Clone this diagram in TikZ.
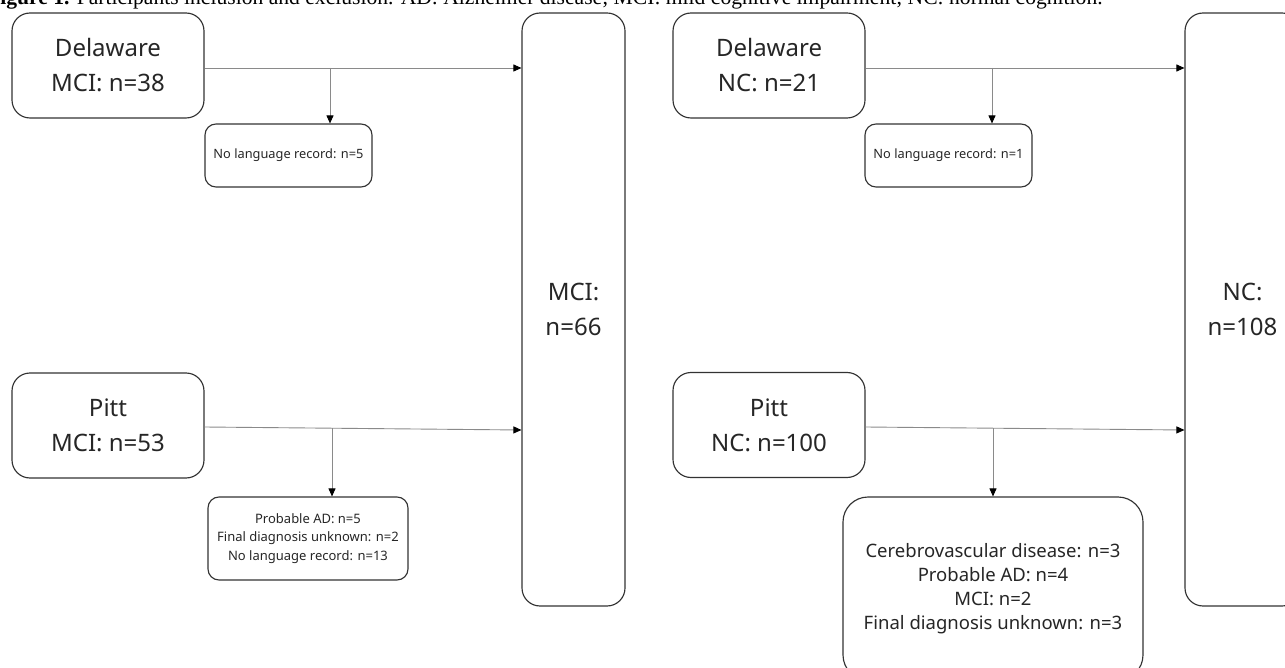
\documentclass[tikz,border=0pt]{standalone}
\usepackage{fontspec}
\setmainfont{Liberation Serif}
\newfontfamily\diagfont{Noto Sans}
\usetikzlibrary{arrows.meta}
\definecolor{boxcol}{HTML}{333333}
\definecolor{linecol}{HTML}{8A8A8A}
\definecolor{txtcol}{HTML}{262626}
\tikzset{
  box/.style={draw=boxcol, line width=1.15pt, rounded corners=18pt, align=center,
    inner sep=0pt, text=txtcol, font=\diagfont\fontsize{24}{35}\selectfont},
  srcbox/.style={box, minimum width=192pt, minimum height=105pt},
  bigbox/.style={box, minimum height=593pt},
  exbox/.style={box, rounded corners=11pt, font=\diagfont\fontsize{12.8}{18.5}\selectfont},
  conn/.style={draw=linecol, line width=0.9pt},
  arr/.style={conn, -{Triangle[length=8pt,width=7pt,color=black]}}
}
\begin{document}
\begin{tikzpicture}[x=1pt,y={(0pt,-1pt)}]
\useasboundingbox (0,0) rectangle (1285,668);
\clip (0,0) rectangle (1285,668);
% caption (partly cut at top)
\node[anchor=base west, inner sep=0pt, font=\fontsize{21.6}{26}\selectfont] (cap) at (-13,5)
  {\textbf{Figure 1.} Participants inclusion and exclusion. AD: Alzheimer disease; MCI: mild cognitive impairment; NC: normal cognition.};
% left half
\node[srcbox] (dmci) at (108,65.5) {Delaware\\MCI: n=38};
\node[exbox, minimum width=167pt, minimum height=63pt] (ex1) at (288.5,155.5) {No language record: n=5};
\node[bigbox, minimum width=103pt] (mci) at (573.5,309.5) {MCI:\\n=66};
\node[srcbox] (pmci) at (108,425.5) {Pitt\\MCI: n=53};
\node[exbox, minimum width=200pt, minimum height=83pt, font=\diagfont\fontsize{13}{18.5}\selectfont] (ex2) at (308,538.5)
  {Probable AD: n=5\\Final diagnosis unknown: n=2\\No language record: n=13};
% right half
\node[srcbox] (dnc) at (769,65.5) {Delaware\\NC: n=21};
\node[exbox, minimum width=167pt, minimum height=63pt] (ex3) at (948.5,155.5) {No language record: n=1};
\node[bigbox, minimum width=115pt] (nc) at (1242.5,309.5) {NC:\\n=108};
\node[srcbox] (pnc) at (769,425) {Pitt\\NC: n=100};
\node[exbox, rounded corners=25pt, minimum width=300pt, minimum height=183pt, font=\diagfont\fontsize{18.5}{24}\selectfont] (ex4) at (993,588.5)
  {Cerebrovascular disease: n=3\\Probable AD: n=4\\MCI: n=2\\Final diagnosis unknown: n=3};
% connector points
\coordinate (a1) at (204,68);  \coordinate (b1) at (522,68);
\coordinate (j1) at (330,68);
\coordinate (a2) at (204,427); \coordinate (b2) at (522,430);
\coordinate (j2) at (332,428);
\coordinate (a3) at (865,68);  \coordinate (b3) at (1185,68);
\coordinate (j3) at (992,68);
\coordinate (a4) at (865,427); \coordinate (b4) at (1185,430);
\coordinate (j4) at (993,428);
% connectors
\draw[arr] (dmci.east |- a1) -- (mci.west |- b1);
\draw[arr] (j1) -- (j1 |- ex1.north);
\draw[arr] (pmci.east |- a2) -- (mci.west |- b2);
\draw[arr] (j2) -- (j2 |- ex2.north);
\draw[arr] (dnc.east |- a3) -- (nc.west |- b3);
\draw[arr] (j3) -- (j3 |- ex3.north);
\draw[arr] (pnc.east |- a4) -- (nc.west |- b4);
\draw[arr] (j4) -- (j4 |- ex4.north);
\end{tikzpicture}
\end{document}
